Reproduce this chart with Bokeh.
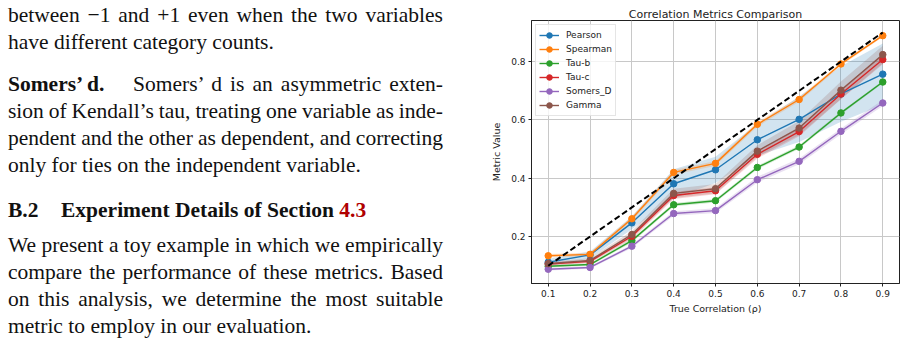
from bokeh.plotting import figure
from bokeh.models import Div, Legend, LegendItem, FixedTicker
from bokeh.layouts import row
from bokeh.embed import file_html
from bokeh.resources import INLINE

# True correlation levels
rho = [0.1, 0.2, 0.3, 0.4, 0.5, 0.6, 0.7, 0.8, 0.9]

# Mean metric values per correlation level
pearson = [0.112, 0.137, 0.247, 0.381, 0.429, 0.532, 0.602, 0.689, 0.757]
spearman = [0.134, 0.139, 0.261, 0.420, 0.451, 0.585, 0.670, 0.792, 0.889]
tau_b = [0.098, 0.104, 0.186, 0.309, 0.323, 0.437, 0.507, 0.624, 0.730]
tau_c = [0.106, 0.115, 0.201, 0.341, 0.357, 0.482, 0.560, 0.689, 0.807]
somers_d = [0.088, 0.094, 0.167, 0.279, 0.289, 0.395, 0.458, 0.561, 0.658]
gamma = [0.107, 0.118, 0.207, 0.348, 0.364, 0.493, 0.572, 0.702, 0.824]

# Standard deviations (shaded bands)
pearson_sd = [0.012, 0.012, 0.022, 0.050, 0.045, 0.055, 0.078, 0.095, 0.105]
spearman_sd = [0.006, 0.006, 0.008, 0.008, 0.008, 0.008, 0.008, 0.006, 0.005]
tau_b_sd = [0.004, 0.004, 0.006, 0.006, 0.006, 0.006, 0.006, 0.005, 0.004]
tau_c_sd = [0.005, 0.006, 0.010, 0.012, 0.012, 0.014, 0.016, 0.018, 0.016]
somers_d_sd = [0.004, 0.004, 0.006, 0.008, 0.008, 0.010, 0.010, 0.010, 0.010]
gamma_sd = [0.006, 0.008, 0.012, 0.016, 0.016, 0.020, 0.024, 0.030, 0.030]

series_names = ["Pearson", "Spearman", "Tau-b", "Tau-c", "Somers_D", "Gamma"]
series_means = [pearson, spearman, tau_b, tau_c, somers_d, gamma]
series_sds = [pearson_sd, spearman_sd, tau_b_sd, tau_c_sd, somers_d_sd, gamma_sd]
colors = ["#1f77b4", "#ff7f0e", "#2ca02c", "#d62728", "#9467bd", "#8c564b"]

x_ticks = [0.1, 0.2, 0.3, 0.4, 0.5, 0.6, 0.7, 0.8, 0.9]
y_ticks = [0.2, 0.4, 0.6, 0.8]

FONT = "DejaVu Sans"

p = figure(width=426, height=340, output_backend="svg", toolbar_location=None,
           x_range=(0.06, 0.94), y_range=(0.039, 0.941),
           title="Correlation Metrics Comparison",
           min_border_left=51, min_border_right=7, min_border_top=20, min_border_bottom=57)
p.margin = 0
p.background_fill_color = "white"
p.border_fill_color = "white"
p.outline_line_color = "#222222"
p.outline_line_width = 1

p.title.align = "center"
p.title.text_font = FONT
p.title.text_font_size = "11px"
p.title.text_font_style = "normal"
p.title.text_color = "#222222"
p.title.standoff = 0
p.title.offset = 0

for ax in (p.xaxis[0], p.yaxis[0]):
    ax.major_label_text_font = FONT
    ax.major_label_text_font_size = "9px"
    ax.major_label_text_color = "#222222"
    ax.axis_label_text_font = FONT
    ax.axis_label_text_font_size = "9.5px"
    ax.axis_label_text_font_style = "normal"
    ax.axis_label_text_color = "#222222"
    ax.axis_line_color = "#222222"
    ax.major_tick_line_color = "#222222"
    ax.major_tick_out = 3
    ax.major_tick_in = 0
    ax.minor_tick_line_color = None
    ax.major_label_standoff = 3

p.xaxis.ticker = FixedTicker(ticks=x_ticks)
p.yaxis.ticker = FixedTicker(ticks=y_ticks)
p.xaxis.axis_label = "True Correlation (ρ)"
p.yaxis.axis_label = "Metric Value"
p.xaxis.axis_label_standoff = 3
p.yaxis.axis_label_standoff = 6

p.xgrid.ticker = FixedTicker(ticks=x_ticks)
p.ygrid.ticker = FixedTicker(ticks=y_ticks)
p.grid.grid_line_color = "#c8c8c8"
p.grid.grid_line_width = 1

# Shaded +/- one standard deviation bands
for mean, sd, c in zip(series_means, series_sds, colors):
    lo = [m - s for m, s in zip(mean, sd)]
    hi = [m + s for m, s in zip(mean, sd)]
    p.varea(x=rho, y1=lo, y2=hi, fill_color=c, fill_alpha=0.2)

items = []
for name, mean, c in zip(series_names, series_means, colors):
    ln = p.line(rho, mean, line_color=c, line_width=1.4)
    sc = p.scatter(rho, mean, size=6.5, fill_color=c, line_color=c, marker="circle")
    items.append(LegendItem(label=name, renderers=[ln, sc]))

# Ideal y = x reference
p.line(rho, rho, line_color="black", line_width=2, line_dash="6 3")

legend = Legend(items=items, location="top_left")
legend.margin = 4
legend.padding = 3
legend.spacing = 0
legend.glyph_width = 20
legend.glyph_height = 14
legend.label_height = 14
legend.label_standoff = 7
legend.label_text_font = FONT
legend.label_text_font_size = "9px"
legend.label_text_color = "#222222"
legend.border_line_color = "#cccccc"
legend.border_line_width = 1
legend.background_fill_color = "white"
legend.background_fill_alpha = 0.8
p.add_layout(legend)

SERIF = ("font-family:'Liberation Serif','Times New Roman',serif;font-size:21.5px;"
         "line-height:27px;color:#111;word-spacing:-3px;")


def line(text, top, left=8, width=435, justify=True, extra=""):
    style = f"position:absolute;top:{top}px;left:{left}px;width:{width}px;{SERIF}"
    if justify:
        style += "text-align:justify;text-align-last:justify;white-space:nowrap;"
    else:
        style += "white-space:nowrap;word-spacing:0px;"
    return f'<div style="{style}{extra}">{text}</div>'


# baselines sit about 21px below each line box top
html = ['<div style="position:relative;width:480px;height:340px;background:white;overflow:hidden;">']
html.append(line("between −1 and +1 even when the two variables", 22.7 - 21))
html.append(line("have different category counts.", 50 - 21, justify=False))
html.append(line("<b>Somers’ d.</b>", 91.7 - 21, justify=False))
html.append(line("Somers’ d is an asymmetric exten-", 91.7 - 21, left=133, width=310))
html.append(line("sion of Kendall’s tau, treating one variable as inde-", 118.7 - 21))
html.append(line("pendent and the other as dependent, and correcting", 145.7 - 21))
html.append(line("only for ties on the independent variable.", 172.7 - 21, justify=False))
html.append(line("<b>B.2</b>", 218.3 - 21, justify=False))
html.append(line('<b>Experiment Details of Section <span style="color:#b00000;">4.3</span></b>',
                 218.3 - 21, left=61, width=380, justify=False))
html.append(line("We present a toy example in which we empirically", 252.7 - 21))
html.append(line("compare the performance of these metrics. Based", 280 - 21))
html.append(line("on this analysis, we determine the most suitable", 307 - 21))
html.append(line("metric to employ in our evaluation.", 334.3 - 21, justify=False))
html.append("</div>")

text_div = Div(text="".join(html), width=480, height=340, margin=0)

layout = row(text_div, p, spacing=0)

open("out.html", "w").write(file_html(layout, INLINE))
